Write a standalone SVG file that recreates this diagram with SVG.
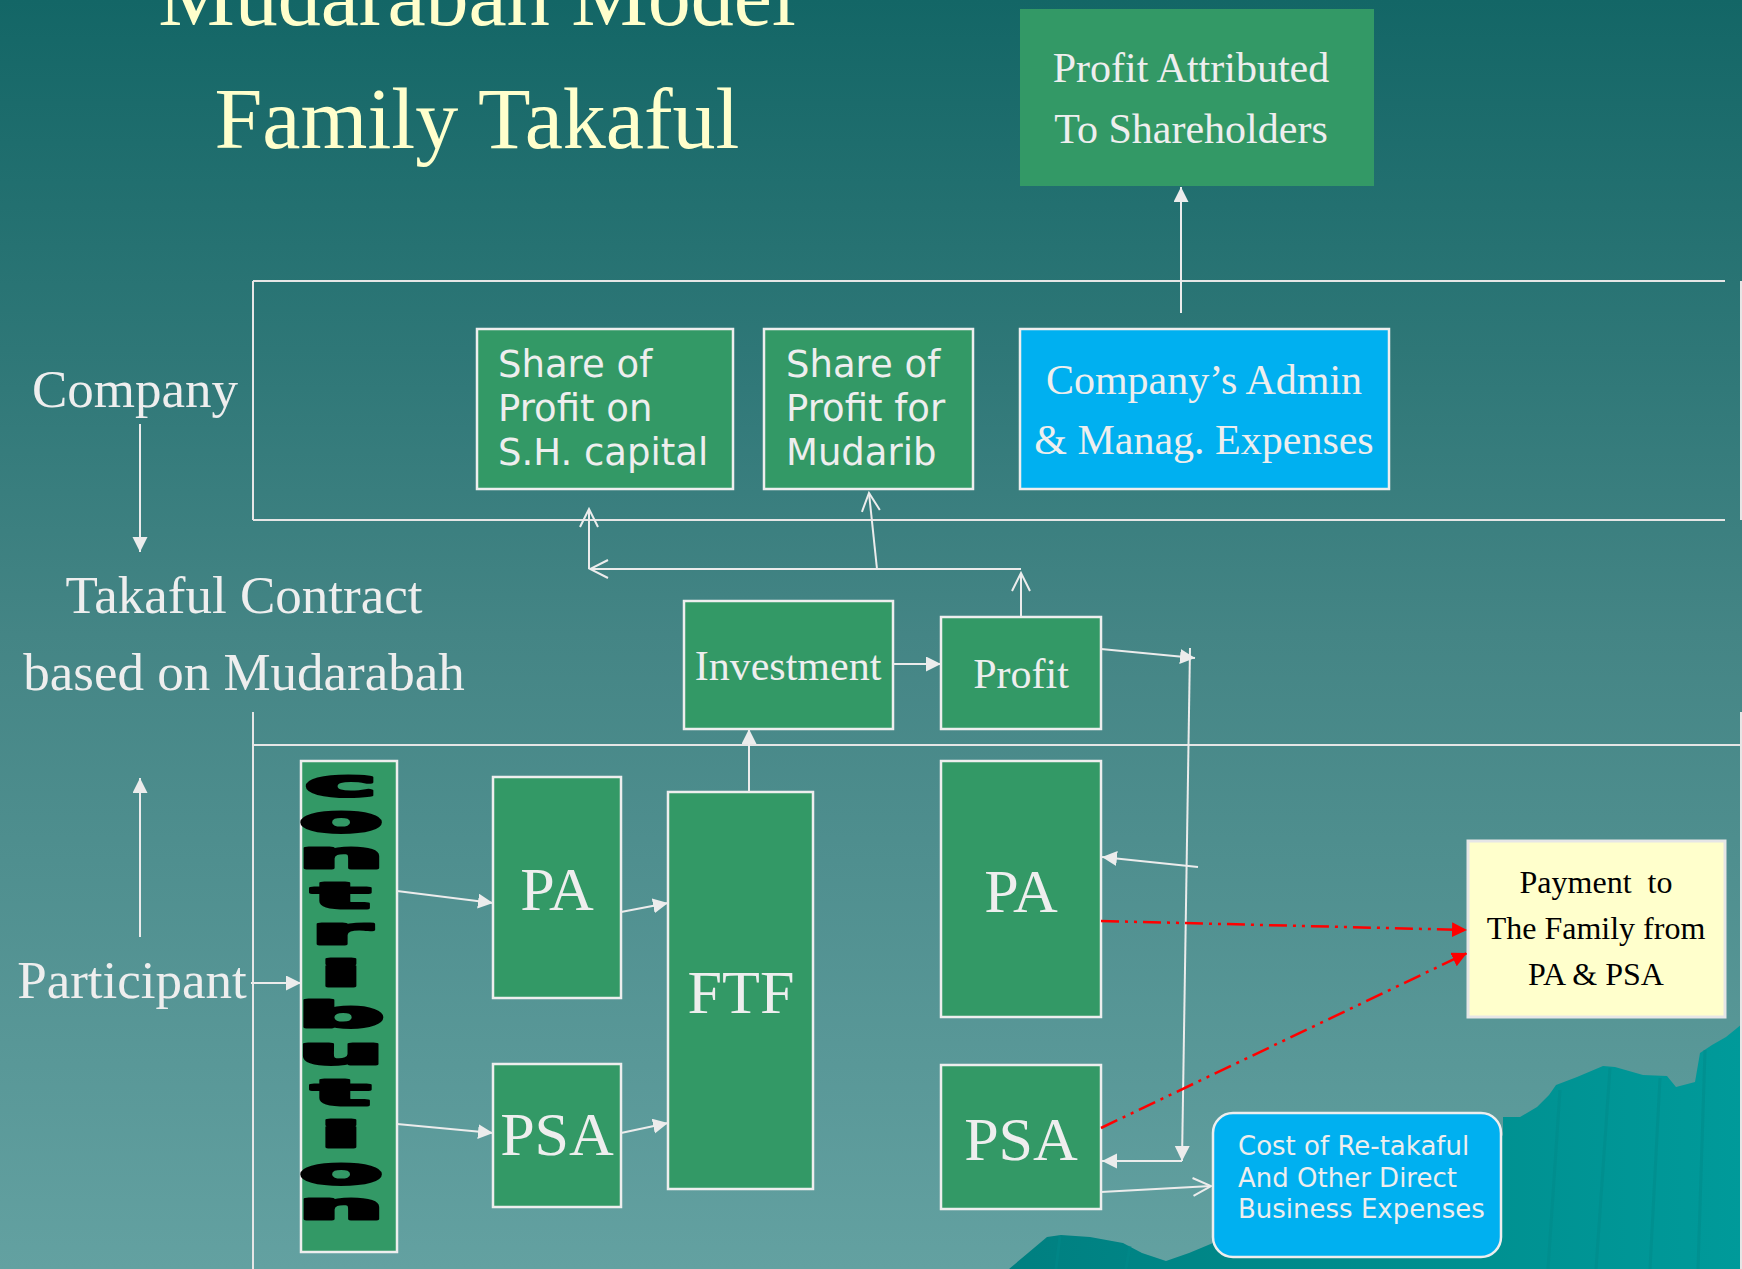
<svg xmlns="http://www.w3.org/2000/svg" width="1742" height="1269" viewBox="0 0 1742 1269">
  <defs>
    <linearGradient id="bg" x1="0" y1="0" x2="0" y2="1">
      <stop offset="0" stop-color="#136666"/>
      <stop offset="0.5" stop-color="#448585"/>
      <stop offset="1" stop-color="#63a1a1"/>
    </linearGradient>
    <linearGradient id="hill" gradientUnits="userSpaceOnUse" x1="1000" y1="0" x2="1742" y2="0">
      <stop offset="0" stop-color="#007f80"/>
      <stop offset="1" stop-color="#009a9a"/>
    </linearGradient>
    <marker id="fh" markerUnits="userSpaceOnUse" viewBox="0 0 16 16" markerWidth="16" markerHeight="16" refX="15" refY="7.5" orient="auto">
      <path d="M0,0 L15,7.5 L0,15 z" fill="#ececec"/>
    </marker>
    <marker id="rh" markerUnits="userSpaceOnUse" viewBox="0 0 16 16" markerWidth="16" markerHeight="16" refX="15" refY="7.5" orient="auto">
      <path d="M0,0 L15,7.5 L0,15 z" fill="#ff0000"/>
    </marker>
    <marker id="oh" markerUnits="userSpaceOnUse" viewBox="-2 -2 22 22" markerWidth="22" markerHeight="22" refX="18" refY="9" orient="auto">
      <path d="M0,0 L18,9 L0,18" fill="none" stroke="#ececec" stroke-width="2"/>
    </marker>
    <style>
      .serif { font-family: "Liberation Serif", "Times New Roman", serif; }
      .sans { font-family: "DejaVu Sans", Verdana, sans-serif; }
      .title { fill: #ffffcc; font-size: 86px; text-anchor: middle; }
      .lbl { fill: #eeeeee; font-size: 53px; text-anchor: middle; }
      .bx { fill: #339966; stroke: #eeeeee; stroke-width: 2.5; }
      .blue { fill: #00b0f0; stroke: #eeeeee; stroke-width: 2.5; }
      .t42 { fill: #eeeeee; font-size: 42px; text-anchor: middle; }
      .t62 { fill: #eeeeee; font-size: 62px; text-anchor: middle; }
      .s37 { fill: #eeeeee; font-size: 37px; }
      .s26 { fill: #eeeeee; font-size: 26px; }
      .frame { fill: none; stroke: #e6e6e6; stroke-width: 2; }
      .ln { fill: none; stroke: #ececec; stroke-width: 2; }
      .red { fill: none; stroke: #ff0000; stroke-width: 2.5; stroke-dasharray: 18 6 3 6 3 6; }
      .wa { fill: #000000; stroke: #000000; stroke-width: 3; stroke-linejoin: round; font-family: "DejaVu Sans", sans-serif; font-weight: bold; font-size: 35px; text-anchor: middle; }
    </style>
  </defs>

  <!-- background -->
  <rect x="0" y="0" width="1742" height="1269" fill="url(#bg)"/>
  <!-- hills, lower right -->
  <path d="M1009,1269 L1028,1253 L1047,1237 L1061,1235 L1090,1237 L1123,1243 L1142,1253 L1166,1261 L1189,1253 L1213,1243 L1450,1200 L1503,1135 L1503,1117 L1520,1117 L1537,1107 L1549,1095 L1556,1085 L1577,1077 L1603,1066 L1615,1067 L1643,1075 L1667,1076 L1676,1087 L1695,1082 L1700,1053 L1712,1045 L1726,1037 L1742,1024 L1742,1269 Z" fill="url(#hill)"/>
  <path d="M1060,1236 L1056,1269 M1130,1246 L1126,1269 M1560,1090 L1548,1269 M1610,1068 L1596,1269 M1660,1078 L1650,1269 M1705,1050 L1698,1269" fill="none" stroke="#008a8a" stroke-width="3" opacity="0.5"/>

  <!-- title -->
  <text class="serif title" x="477" y="25">Mudarabah Model</text>
  <text class="serif title" x="477" y="148">Family Takaful</text>

  <!-- side labels -->
  <text class="serif lbl" x="135" y="407">Company</text>
  <text class="serif lbl" x="244" y="613">Takaful Contract</text>
  <text class="serif lbl" x="244" y="690">based on Mudarabah</text>
  <text class="serif lbl" x="132" y="998">Participant</text>

  <!-- frames -->
  <g id="frames">
    <path class="frame" d="M253,281 H1725 M253,520 H1725 M253,281 V520 M1741,281 V520"/>
    <path class="frame" d="M253,745 H1742 M253,712 V1269 M1741,712 V1269"/>
  </g>

  <!-- nodes -->
  <g id="profit-shareholders">
    <rect x="1020" y="9" width="354" height="177" fill="#339966"/>
    <text class="serif t42" x="1191" y="82">Profit Attributed</text>
    <text class="serif t42" x="1191" y="143">To Shareholders</text>
  </g>
  <g id="share-sh-capital">
    <rect class="bx" x="477" y="329" width="256" height="160"/>
    <text class="sans s37" x="498" y="377">Share of</text>
    <text class="sans s37" x="498" y="421">Profit on</text>
    <text class="sans s37" x="498" y="465">S.H. capital</text>
  </g>
  <g id="share-mudarib">
    <rect class="bx" x="764" y="329" width="209" height="160"/>
    <text class="sans s37" x="786" y="377">Share of</text>
    <text class="sans s37" x="786" y="421">Profit for</text>
    <text class="sans s37" x="786" y="465">Mudarib</text>
  </g>
  <g id="admin-expenses">
    <rect class="blue" x="1020" y="329" width="369" height="160"/>
    <text class="serif t42" x="1204" y="394">Company’s Admin</text>
    <text class="serif t42" x="1204" y="454">&amp; Manag. Expenses</text>
  </g>
  <g id="investment">
    <rect class="bx" x="684" y="601" width="209" height="128"/>
    <text class="serif t42" x="788" y="680">Investment</text>
  </g>
  <g id="profit">
    <rect class="bx" x="941" y="617" width="160" height="112"/>
    <text class="serif t42" x="1021" y="688">Profit</text>
  </g>
  <g id="contribution">
    <rect class="bx" x="301" y="761" width="96" height="491"/>
    <text class="wa" transform="translate(341,0) scale(3.4,1)"><tspan x="0" y="796">c</tspan><tspan x="0" y="832">o</tspan><tspan x="0" y="868">n</tspan><tspan x="0" y="908">t</tspan><tspan x="0" y="944">r</tspan><tspan x="0" y="986">i</tspan><tspan x="0" y="1027">b</tspan><tspan x="0" y="1064">u</tspan><tspan x="0" y="1105">t</tspan><tspan x="0" y="1147">i</tspan><tspan x="0" y="1184">o</tspan><tspan x="0" y="1219">n</tspan></text>
  </g>
  <g id="pa-in">
    <rect class="bx" x="493" y="777" width="128" height="221"/>
    <text class="serif t62" x="557" y="910">PA</text>
  </g>
  <g id="psa-in">
    <rect class="bx" x="493" y="1064" width="128" height="143"/>
    <text class="serif t62" x="557" y="1155">PSA</text>
  </g>
  <g id="ftf">
    <rect class="bx" x="668" y="792" width="145" height="397"/>
    <text class="serif t62" x="741" y="1013">FTF</text>
  </g>
  <g id="pa-out">
    <rect class="bx" x="941" y="761" width="160" height="256"/>
    <text class="serif t62" x="1021" y="912">PA</text>
  </g>
  <g id="psa-out">
    <rect class="bx" x="941" y="1065" width="160" height="144"/>
    <text class="serif t62" x="1021" y="1160">PSA</text>
  </g>
  <g id="payment">
    <rect x="1468" y="841" width="257" height="176" fill="#ffffcc" stroke="#e6e6e6" stroke-width="3"/>
    <text class="serif" x="1596" y="893" font-size="32" text-anchor="middle" fill="#000" xml:space="preserve">Payment  to</text>
    <text class="serif" x="1596" y="939" font-size="32" text-anchor="middle" fill="#000">The Family from</text>
    <text class="serif" x="1596" y="985" font-size="32" text-anchor="middle" fill="#000">PA &amp; PSA</text>
  </g>
  <g id="retakaful-cost">
    <rect class="blue" x="1213" y="1113" width="288" height="144" rx="20" ry="20"/>
    <text class="sans s26" x="1238" y="1155">Cost of Re-takaful</text>
    <text class="sans s26" x="1238" y="1187">And Other Direct</text>
    <text class="sans s26" x="1238" y="1218">Business Expenses</text>
  </g>

  <!-- connectors -->
  <g id="connectors">
    <path class="ln" d="M140,424 V552" marker-end="url(#fh)"/>
    <path class="ln" d="M140,937 V778" marker-end="url(#fh)"/>
    <path class="ln" d="M251,983 H301" marker-end="url(#fh)"/>
    <path class="ln" d="M397,891 L493,903" marker-end="url(#fh)"/>
    <path class="ln" d="M397,1124 L493,1133" marker-end="url(#fh)"/>
    <path class="ln" d="M621,912 L668,903" marker-end="url(#fh)"/>
    <path class="ln" d="M621,1133 L668,1123" marker-end="url(#fh)"/>
    <path class="ln" d="M749,792 V729" marker-end="url(#fh)"/>
    <path class="ln" d="M893,664 H941" marker-end="url(#fh)"/>
    <path class="ln" d="M1021,617 V573" marker-end="url(#oh)"/>
    <path class="ln" d="M1021,569 H590" marker-end="url(#oh)"/>
    <path class="ln" d="M589,569 V509" marker-end="url(#oh)"/>
    <path class="ln" d="M877,569 L869,493" marker-end="url(#oh)"/>
    <path class="ln" d="M1181,313 V187" marker-end="url(#fh)"/>
    <path class="ln" d="M1101,649 L1195,658" marker-end="url(#fh)"/>
    <path class="ln" d="M1190,648 L1182,1161" marker-end="url(#fh)"/>
    <path class="ln" d="M1182,1161 H1102" marker-end="url(#fh)"/>
    <path class="ln" d="M1198,867 L1102,857" marker-end="url(#fh)"/>
    <path class="ln" d="M1101,1192 L1211,1186" marker-end="url(#oh)"/>
    <path class="red" d="M1101,921 L1467,930" marker-end="url(#rh)"/>
    <path class="red" d="M1101,1128 L1467,953" marker-end="url(#rh)"/>
  </g>
</svg>
